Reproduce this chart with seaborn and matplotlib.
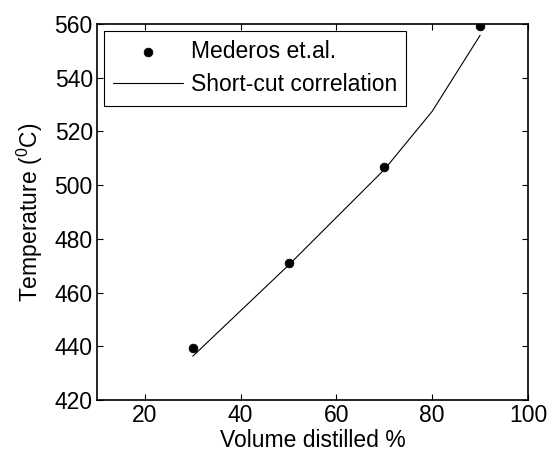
import matplotlib
matplotlib.use("Agg")
import matplotlib.pyplot as plt
import seaborn as sns
import pandas as pd

exp_x = [30, 50, 70, 90]
exp_y = [439.3, 471.0, 506.8, 559.3]
corr_x = [30, 50, 70, 80, 90]
corr_y = [436.3, 470.2, 505.8, 527.5, 555.8]

sns.set_theme(style="ticks")
plt.rcParams['font.family'] = ['Liberation Sans', 'DejaVu Sans']
plt.rcParams['mathtext.fontset'] = 'custom'
plt.rcParams['mathtext.rm'] = 'Liberation Sans'
plt.rcParams['mathtext.it'] = 'Liberation Sans'
plt.rcParams['text.color'] = 'black'
plt.rcParams['axes.labelcolor'] = 'black'
plt.rcParams['xtick.color'] = 'black'
plt.rcParams['ytick.color'] = 'black'

FS = 16.5
fig = plt.figure(figsize=(5.48, 4.55), dpi=100)
ax = fig.add_axes([97/548, 1-400/455, (528-97)/548, (400-24)/455])

df_exp = pd.DataFrame({"x": exp_x, "y": exp_y})
df_corr = pd.DataFrame({"x": corr_x, "y": corr_y})

sns.scatterplot(data=df_exp, x="x", y="y", ax=ax, color="black", s=40,
                edgecolor="black", label="Mederos et.al.", zorder=3)
sns.lineplot(data=df_corr, x="x", y="y", ax=ax, color="black", linewidth=0.8,
             label="Short-cut correlation")

ax.set_xlim(10, 100)
ax.set_ylim(420, 560)
ax.set_xticks([20, 40, 60, 80, 100])
ax.set_yticks(range(420, 561, 20))
ax.tick_params(direction="in", top=True, right=True, labelsize=FS, length=4,
               width=0.8, colors="black", labelcolor="black", pad=3)
for s in ax.spines.values():
    s.set_linewidth(1.2)
    s.set_color("black")
ax.set_xlabel("Volume distilled %", fontsize=FS, labelpad=1, color="black")
ax.set_ylabel(r"Temperature ($^0$C)", fontsize=FS, labelpad=7, color="black")

leg = ax.legend(loc="upper left", fontsize=FS, frameon=True, fancybox=False,
                edgecolor="black", framealpha=1, borderaxespad=0.3,
                handlelength=3.05, handletextpad=0.35, borderpad=0.4,
                labelspacing=0.45)
leg.get_frame().set_linewidth(0.8)
for t in leg.get_texts():
    t.set_color("black")

fig.savefig("out.png", dpi=100)
